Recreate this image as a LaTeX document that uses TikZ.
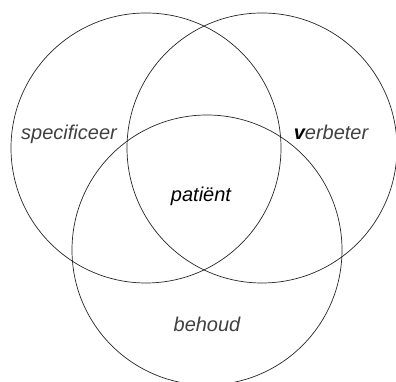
\documentclass[tikz,border=0pt]{standalone}
\usepackage{fontspec}
\setmainfont{Liberation Sans}
\usepackage{tikz}
\usetikzlibrary{positioning}

\begin{document}
\begin{tikzpicture}[
    x=1pt, y=1pt,
    ring/.style={circle, draw=black!85, line width=0.7pt, minimum size=270pt, inner sep=0pt},
    word/.style={anchor=base, inner sep=0pt, font=\fontsize{20}{24}\selectfont\itshape, text=black!75}
]
\useasboundingbox (0,0) rectangle (396,382);

% Circles
\node[ring] (links) at (146,234) {};
\node[ring] (rechts) at (262,234) {};
\node[ring] (onder) at (207,132) {};

% Labels
\node[word] (spec) at (69,242) {specificeer};
\node[word] (verb) at (331,242) {{\bfseries\color{black}v}erbeter};
\node[word, text=black] (pat) at (201,180) {patiënt};
\node[word] (beh) at (207,50) {behoud};

\end{tikzpicture}
\end{document}
